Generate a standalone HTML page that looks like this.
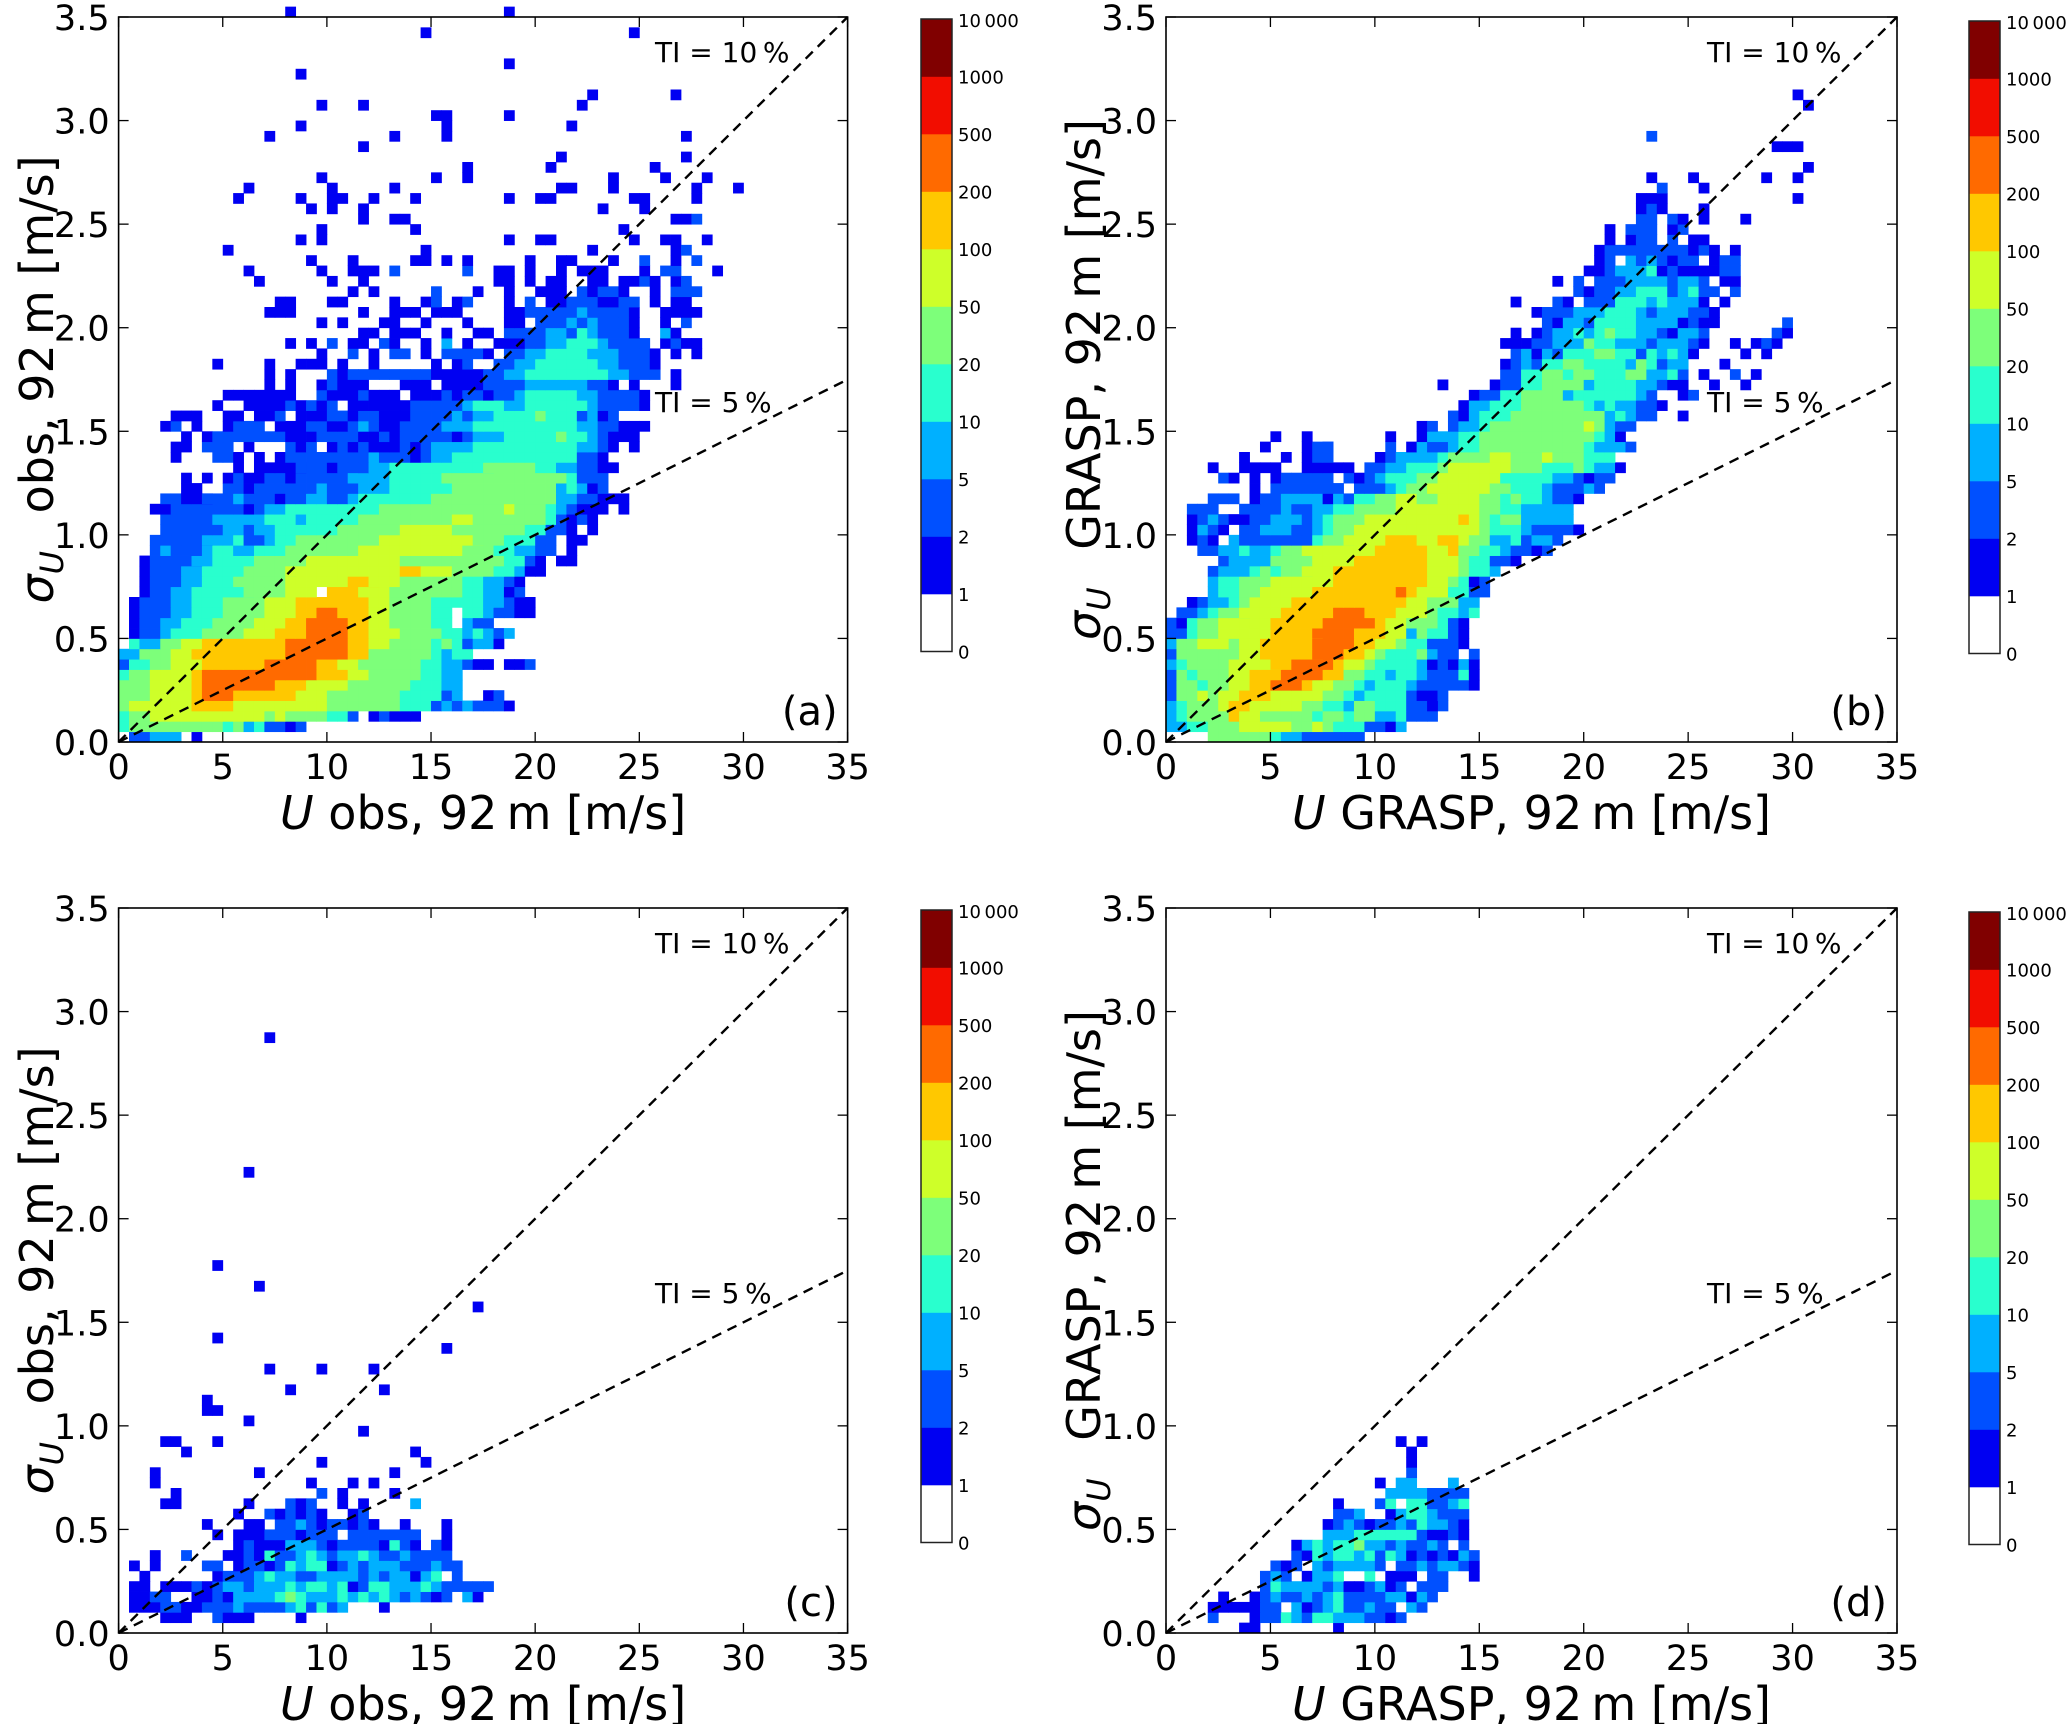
<!DOCTYPE html>
<html><head><meta charset="utf-8"><style>
html,body{margin:0;padding:0;background:#fff;}
svg{display:block;font-family:"DejaVu Sans","Liberation Sans",sans-serif;}
</style></head><body>
<svg id="fig" width="2067" height="1724" viewBox="0 0 2067 1724" xmlns="http://www.w3.org/2000/svg"></svg>
<script>
// ---- DATA: 2D histogram bins (x bin 0.5 m/s, y bin 0.05 m/s); each row = y bin index from bottom.
// segment "col:levels" ; level 0 empty, 1:1-2, 2:2-5, 3:5-10, 4:10-20, 5:20-50, 6:50-100, 7:100-200, 8:200-500
const panelARows = [
"1:22 3:333 7:1",
"0:4 1:555555555 10:4 11:5 12:3 13:4 14:221 17:2",
"0:4 1:55 3:66666666666 14:5 15:6 16:5555 20:44 22:2 24:1 25:2 26:111",
"0:5 1:666666 7:7 8:777 11:666666 17:666 20:5555555 27:444 30:2 31:3 32:2 33:3 34:222 37:1",
"0:5 1:55 3:6666 7:7 8:888 11:777777 17:666 20:5555555 27:4444 31:2 32:3 35:1 36:2",
"0:5 1:55 3:6666 7:7 8:8888888 15:777 18:6666 22:555555 28:444 31:3 32:3",
"0:4 1:55 3:6666 7:7 8:88888888888 19:777 22:66 24:55555 29:44 31:33",
"0:2 1:44 3:55 5:666 8:777777 14:88888 19:77 21:66 23:555555 29:44 31:33 33:2 34:11 37:11 39:2",
"0:33 2:555 5:66 7:777 10:777777 16:888888 22:77 24:555555 30:4 31:3 32:44",
"1:4 2:33 4:55 6:66 8:77777 13:777 16:888888 22:77 24:66 26:5555 30:4 31:5 32:4 33:2 34:33 36:1",
"1:1 2:22 4:3 5:444 8:5555 12:666 15:777 18:8888 22:77 24:666 27:5555 31:44 33:3 34:4 35:3 36:2 37:3",
"1:1 2:22 4:33 6:444 9:5555 13:666 16:77 18:8888 22:77 24:66 26:5555 30:44 33:3 34:22",
"1:1 2:222 5:33 7:444 10:5555 14:666 17:77 19:88 21:777 24:66 26:5555 30:44 33:444 35:3 36:22 38:11",
"1:1 2:222 5:33 7:444 10:5555 14:666 17:7777 21:777 24:66 26:5555 30:444 33:44 35:3 36:3 37:2 38:11",
"2:1 3:22 5:33 7:44 9:4444 12:5555 16:666 20:777 23:666 26:5555 30:555 33:44 35:33 37:1 38:2",
"2:1 3:2 4:22 6:33 8:444 11:55555 16:666 19:666 22:777 24:666 27:55555 32:5 33:44 35:33 37:2 38:1",
"2:1 3:2 4:22 6:33 8:44 10:44555 15:55 16:66666 21:6 22:66666 27:77 29:666 32:55 34:55 36:44 38:3 39:1 40:1",
"2:1 3:2 4:22 6:22 7:33 9:44 11:44 13:55555 18:666666 24:666 27:5 28:5555 32:55 34:555 37:44 39:2 40:1 42:11",
"3:2 4:3 5:2 6:22 8:3 9:44 11:33 13:444 16:5555 20:555 23:666666 29:66 31:666 33:555 36:444 38:33 40:22 43:1",
"3:2 4:2 5:2 6:222 8:33 10:3 11:4 12:222 14:3 15:44 17:5555 21:5555 25:6666 29:66 31:6666 34:555 37:444 40:22 43:1 44:1",
"4:2 5:222 8:2 9:2 10:3 11:3 12:2 13:33 15:4 16:444 19:44 21:555 24:555 27:666 30:66 32:555 35:5 36:555 39:44 41:22 43:1 45:1",
"4:2 5:2222 9:3 10:333 13:3 14:444 17:3 18:44 20:444 23:555 26:555555 32:66 34:555 37:5555 41:4 42:2 43:1 44:2 45:1",
"3:1 4:1 5:2222 9:2 10:22 12:1 13:2 14:3 15:3 16:44 18:4 19:444 22:444 25:55 27:5555 31:555555 37:6 38:555 41:4 42:3 43:2 44:11 46:1 48:1",
"4:2 5:2 6:111 8:2 9:22 11:3 12:2 13:22 15:1 16:22 18:3 19:3 20:22 22:3 23:44 25:4 26:4444 30:55555 35:55555 40:55 42:3 43:3 44:2 45:2 46:1 47:11",
"6:1 7:1 10:2 11:2 12:1 13:2 14:2 15:22 17:22 19:3 20:2 21:22 23:33 25:3 26:4444 30:44 32:5555 36:55555 41:5 42:3 43:4 44:3 45:1 46:2",
"6:1 8:1 10:1 11:2 12:11 14:22 16:1 17:2 18:22 20:22 22:3 23:33 25:3 26:444 29:44 31:55555 36:5555 40:5 41:55 43:4 44:22 46:2",
"11:1 13:1 14:1 15:111 17:2 18:22 20:1 21:222 23:2 24:33 26:4 27:44 29:4444 33:444 35:555 38:55 40:4 41:4 42:3 43:3 44:2 45:2 46:1 47:1",
"5:1 9:22 11:1 13:1 15:11 16:2 17:2 18:2 19:2 20:2222 24:3 25:2 26:2 27:2 28:1 29:2 30:3 31:3 32:44 34:44 36:44 38:4 39:4 40:4 41:44 43:4 44:2 45:2 46:1",
"5:1 6:1 8:22 10:2 12:1 16:2 17:1 18:2 20:1 21:2 22:1 23:2 24:1 25:1 26:1 27:2 28:1 29:2 30:3 31:33 33:3 34:4 35:44 37:4 38:4 39:44 41:4 42:4 43:4 44:3 45:3 46:2 47:1 49:1",
"6:1 8:1 9:22 11:2 12:22 14:22 16:1 17:1 18:1 19:2 20:2 21:2 22:2 23:11 25:2 26:1 27:2 28:2 29:2 30:22 32:1 33:2 34:3 35:33 37:44 39:4 40:44 42:5 43:4 44:4 45:3 46:2 47:1 48:11",
"4:1 5:2 7:1 10:1 11:2 12:2 13:2 15:1 16:1 17:1 18:2 19:2 20:1 21:1 22:2 23:3 24:2 25:1 26:1 27:2 28:22 30:2 31:3 32:3 33:3 34:4 35:4 36:44 38:44 40:44 42:4 43:4 44:3 45:3 46:2 47:2 48:11 50:1",
"5:11 7:1 10:1 11:1 13:1 14:1 15:2 17:1 18:1 19:1 20:2 21:2 22:1 23:2 24:2 25:1 26:1 27:1 28:2 29:2 30:2 31:2 32:3 33:2 34:3 35:3 36:4 37:4 38:4 39:4 40:5 41:4 42:4 43:4 44:2 45:3 46:1 47:2",
"9:1 12:11 14:1 15:1 16:2 17:1 18:2 19:1 20:2 22:1 23:1 24:1 25:1 26:1 27:1 28:2 29:2 30:2 31:2 32:2 33:3 34:4 35:4 36:4 37:3 38:3 39:4 40:4 41:4 42:4 43:4 44:4 45:3 46:2 47:2 48:2 49:2 50:1",
"10:11 12:1 13:1 14:1 15:1 16:1 19:2 20:1 21:1 22:1 23:2 24:1 25:1 26:1 28:1 29:1 30:1 31:2 32:1 33:2 34:2 35:1 36:2 37:2 38:3 39:4 40:4 41:4 42:4 43:4 44:3 45:3 46:2 47:2 48:2 49:2 50:1",
"14:1 16:1 19:1 20:2 21:1 22:1 23:1 27:1 28:1 29:1 31:1 32:1 33:1 34:1 35:2 36:2 37:2 38:2 39:3 40:3 41:3 42:3 43:3 44:3 45:2 46:2 47:1 49:1 53:1",
"14:1 16:1 20:212 23:2222222 30:11111 35:2 36:2334444444433 49:222 53:1",
"9:1 14:1 17:111 21:1 24:1 30:1 32:12 36:2233444444332221",
"19:1 22:2 24:1 26:22 29:1 31:2222 35:1 37:223344443332221 53:1 55:1",
"16:1 18:1 20:2 22:11 25:21 29:1 31:3 33:1 36:111 39:223344432222 52:1211",
"23:11 26:111 31:1 34:11 37:22 39:22332432221 52:3 53:1",
"19:1 21:1 25:11 29:1 33:1 37:11 40:2223232221 52:1 54:2",
"14:111 23:1 26:111 30:111 37:11 39:22 41:222322221 52:1111",
"15:11 20:11 26:1 29:12 32:12 37:1 39:2 41:112221122 51:1 53:11",
"22:1 24:1 30:2 34:1 37:1 40:111 44:21221 51:1 53:222",
"13:1 20:1 23:1 36:11 39:1 41:11 45:11 48:1121 53:12",
"12:1 19:1 22:111 26:2 33:2 36:11 39:1 42:1 44:111 50:1 52:22 57:1",
"18:1 22:1 28:11 31:1 33:1 39:1 42:11 47:1 50:2 53:1 55:2",
"10:1 29:1 45:1 53:12",
"17:1 19:1 37:1 40:11 49:1 52:11 56:1",
"19:1 28:1 48:1",
"23:1 26:11 53:112",
"18:1 20:1 23:1 46:1 50:1",
"11:1 17:1 20:1 21:1 24:1 28:1 37:1 40:11 49:11 55:1",
"12:1 20:1 26:1 42:11 47:1 55:1 59:1",
"19:1 30:1 33:1 47:1 52:1 56:1",
"33:1 41:1 51:1",
"42:1 54:1",
"23:1",
"14:1 26:1 31:1 54:1",
"17:1 31:1 43:1",
"30:11 37:1",
"19:1 23:1 44:1",
"45:1 53:1",
"",
"17:1",
"37:1",
"",
"",
"29:1 49:1",
"",
"16:1 37:1"
];
const panelBRows = [
"4:55 6:5555 10:4 11:33 13:222222",
"0:3 1:3 2:44 4:5555 7:66666 12:55 14:6 15:5 16:444 19:22 21:1 22:3",
"0:3 1:4 2:5 3:555 6:7 7:66 9:55555 14:4 15:5 16:5 17:4 18:5 19:5 20:33 22:4 23:22 25:2",
"0:3 1:4 2:5 3:55 5:6 6:77 8:66666 13:55 15:4 16:4 17:3 18:5 19:5 20:44 22:4 23:2222 25:1",
"0:2 1:5 2:55 3:6 4:5 5:66 7:7777 10:66 12:66 14:6 15:55 17:4 18:3 19:4 20:4 21:4 22:4 23:2 24:11 26:2",
"0:2 1:5 2:55 3:4 4:5 5:5 6:6 7:6 8:7 9:7 10:8 11:888 13:7 14:6 15:6 16:55 18:4 19:3 20:44 22:4 23:3 24:22 26:2 27:2 28:2 29:1",
"0:2 1:5 2:4 3:5 4:5 5:5 6:6 7:6 8:7 9:77 11:8888 15:7 16:77 17:55 19:44 21:3 22:4 23:4 24:3 25:2 26:22 28:4 29:1",
"0:3 1:4 2:55 4:55 6:66 8:666 10:77 12:8888 16:7 17:66 19:5 20:4 21:44 23:4 24:3 25:1 26:2 27:1 28:3 29:1",
"0:2 1:5 2:55 4:5 5:55 7:66 9:7 10:77 12:777 14:888 17:77 19:6 20:5 21:4 22:44 24:5 25:3 26:2 27:2 29:2",
"0:3 1:5 2:55 3:6 4:66 6:5 7:66 9:7 10:77 12:77 14:8888 18:77 20:66 22:5 23:44 25:2 26:2 27:2 28:1",
"0:2 1:2 2:4 3:5 4:5 5:6 6:66 8:66 10:77 12:777 14:8888 18:777 21:66 23:3 24:5 25:44 27:2 28:1",
"0:2 1:1 2:4 3:55 5:6 6:666 8:66 10:777 13:77 15:888 18:88 20:7 21:66 23:5 24:5 25:5 26:4 27:2 28:1",
"1:2 2:22 3:3 4:4 5:555 7:66 9:66 11:77777 16:888 19:7 20:77 22:66 24:6 25:5 26:44 28:3 29:4",
"2:1 3:2 4:3 5:3 6:4 7:5 8:66 10:66 12:77 14:77 16:77 18:77 20:7 21:77 23:66 25:5 26:55 28:3 29:3",
"4:3 5:4 6:4 7:55 9:66 11:6 12:66 14:77 16:77 18:77 20:77 22:8 23:7 24:666 27:44 29:2 30:2",
"4:3 5:4 6:4 7:5 8:55 10:66 12:66 14:66 16:77 18:77 20:77 22:77 24:7 25:66 27:55 28:4 29:1 30:2",
"4:2 5:3 6:33 8:4 9:5 10:4 11:555 13:66 15:6 16:77 18:77 20:77 22:777 25:66 27:6 28:5 29:4 30:4 31:3",
"5:2 6:3 7:3 8:333 10:55 12:55 14:666 17:6 18:7 19:7 20:77 22:777 25:66 27:6 28:5 29:4 30:4 31:2 32:2 33:1",
"3:22 5:3 6:3 7:4 8:33 10:44 11:55 13:666 16:66 18:66 20:777 22:77 24:7 25:66 27:77 28:5 29:5 30:44 32:3 33:2 34:2 35:1 36:2",
"2:1 3:2 4:1 6:3 7:2 8:2 9:2 10:2222 14:4 15:555 17:6 18:6 19:6 20:6 21:77 23:7 24:66 26:77 28:6 29:5 30:5 31:33 33:4 34:2 35:33 37:2",
"2:1 3:3 4:2 5:1 7:2 8:2 9:3 10:3 11:3 12:22 14:3 15:4 16:55 18:6 19:66 21:66 23:66 25:66 27:6 28:66 30:5 31:44 33:4 34:3 35:2 36:2 37:22 39:1",
"2:1 3:2 4:3 5:2 6:1 7:1 8:2 9:2 10:33 12:3 13:2 14:3 15:4 16:55 18:5 19:6 20:66 22:66 24:66 26:66 28:7 29:6 30:5 31:4 32:55 34:3 35:33 37:33",
"2:2 3:2 4:2 7:2 8:2 9:2 10:2 11:3 12:22 14:33 16:44 18:55 20:555 22:66 24:66 26:66 28:66 30:55 32:44 34:3 35:3 36:3 37:33",
"4:2 5:22 8:1 9:2 10:2 11:3 12:33 14:3 15:1 16:3 17:2 18:4 19:4 20:55 22:66 24:55 26:66 28:6 29:6 30:5 31:5 32:4 33:5 34:44 36:3 37:2 38:2 39:1",
"8:1 10:2 11:2 12:22 14:2 15:2 16:2 18:2222 21:3 22:4 23:55 25:6 26:666 29:66 31:5 32:5 33:4 34:44 36:3 37:2 38:2 39:2 40:3 41:2",
"5:2 6:1 8:1 10:1 11:222 14:2 15:2 17:2 18:1 19:2 20:3 21:4 22:44 24:55 26:66 28:66 30:66 32:4 33:44 35:44 37:3 38:3 39:2 40:1 41:2 42:2",
"4:1 7:11 9:11 13:11 15:111 19:2 20:2 21:33 23:4 24:44 26:5 27:66 29:66 31:66 33:5 34:55 36:4 37:44 39:5 40:4 41:33 43:1",
"7:1 11:1 13:1 14:2 15:2 20:1 21:2 22:33 24:33 26:4 27:55 29:55 31:6 32:6 33:5 34:55 36:6 37:5 38:55 40:4 41:44",
"9:1 13:1 14:22 15:2 21:2 23:1 24:3 25:2 26:2 27:3 28:44 30:55 32:55 34:55 36:5 37:5 38:55 40:4 41:3 42:3 43:3 44:2",
"10:1 13:1 21:1 24:1 25:3 26:3 27:3 28:4 29:4 30:5 31:555 34:5 35:5 36:5 37:55 39:5 40:5 41:4 42:3 43:1",
"24:1 25:2 27:22 28:3 29:3 30:4 31:555 34:5 35:5 36:55 38:55 40:6 41:5 42:3 43:2 44:2",
"27:2 28:1 29:3 30:4 31:44 33:5 34:55 36:5 37:5 38:55 40:5 41:5 42:3 43:4 44:3 45:2 46:2 49:1",
"28:1 29:3 30:3 31:4 32:44 34:5 35:5 36:5 37:5 38:5 39:5 40:4 41:3 42:4 43:3 44:3 45:2 46:2 47:1",
"29:1 30:2 31:2 32:4 33:4 34:5 35:55 37:5 38:3 39:4 40:44 42:4 43:44 45:3 46:2 49:1 50:2",
"26:1 31:1 32:2 33:2 34:4 35:4 36:5 37:55 39:5 40:3 41:4 42:4 43:4 44:4 45:3 46:3 47:2 48:1 49:1 52:1 55:1",
"32:224455455444553342 51:1 54:2 56:1",
"32:123244554444354233 53:1",
"33:231324445544243431 55:1 57:1",
"32:11122333544333233321 54:1 56:121",
"33:1 35:12334345443321332 58:21",
"36:21332444433331211 59:2",
"35:122233344432333221",
"37:21.222444343331.1 33:1",
"39:21223344423422.2",
"37:1 39:2.22233332332.11",
"40:112333412111122",
"41:12.3232122.122",
"41:1222222221 51:21 54:1",
"42:1 44:122 48:2 50:11",
"42:1 44:222 48:12",
"45:22 48:21 51:1 55:1",
"45:121 51:1",
"45:111 60:1",
"47:2 51:1",
"46:1 50:1 57:1 60:1",
"61:1",
"",
"58:111",
"46:2",
"",
"",
"61:1",
"60:1"
];
const panelCRows = [
"",
"4:111 9:2 10:111 17:1",
"1:111 4:22 6:11 8:222 11:3 12:2222 16:3 17:4 18:2 19:4 20:2 21:3 25:1",
"1:11 3:22 7:11 9:2 10:1 11:3333 15:4 16:5 17:4 18:333 21:4 22:3 23:4 24:3 25:4 26:3 27:2 28:3 29:2 30:1 31:2 33:3 34:1",
"1:11 4:111 7:2 8:1 9:2 10:33 12:2 13:333 16:4 17:3 18:44 20:3 21:4 22:1 23:2 24:44 26:333 29:4 30:3 31:22222",
"2:1 9:1 10:22 12:2 13:3 14:4 15:33 17:22 19:3333 23:2 24:3 25:2 26:33 28:1 29:3 30:4 32:2",
"1:1 3:1 8:22 11:1 12:2 13:2 14:1 15:2 16:4 17:3 18:44 20:1 21:2 22:3 23:2 24:333 27:222 30:3 31:22",
"3:1 6:2 10:11 12:2 13:1 14:4 15:2 16:2 17:3 18:4 19:3 20:2 21:33 23:4 24:3 25:22 27:3 28:2222",
"11:1 12:2 13:111 16:3 17:33 19:2 20:1 21:2222 25:1 26:4 27:2 28:1 30:2 31:1",
"9:1 11:111 14:222 17:1 18:222 22:2222222 31:1",
"8:1 12:11 15:22 17:3 18:2 19:1 20:22 22:1 23:2 24:1 27:1 31:1",
"11:1 14:21 16:2 17:1 18:2 19:1 22:1 23:2",
"4:11 12:1 16:2 17:1 18:2 21:1 23:1 28:3",
"5:1 19:2 21:1 26:1",
"3:1 18:1 22:1 24:1",
"3:1 13:1 26:1",
"19:1 29:1",
"6:1 28:1",
"4:11 9:1",
"23:1",
"12:1",
"8:11",
"8:1",
"16:1 25:1",
"",
"14:1 19:1 24:1",
"",
"31:1",
"9:1",
"", "",
"34:1",
"",
"13:1",
"",
"9:1",
"", "", "", "", "", "", "", "",
"12:1",
"", "", "", "", "", "", "", "", "", "", "", "",
"14:1"
];
const panelDRows = [
"7:11 16:1",
"4:2 8:1 9:22 11:4 12:3 13:2 14:44 16:333 19:22 21:1 22:2",
"4:11111 9:22 12:3 13:1 14:2 15:3 16:4 17:22 19:3 20:22 23:3 24:2",
"5:1 8:1 9:2 10:3 11:22 13:3 14:2 15:3 16:4 17:2222 21:33 23:1 24:3 25:2",
"9:2 10:4 11:3333 15:2 16:3 17:11 19:2 20:3 21:1 22:2 24:222",
"9:2 10:3 11:2 13:1 14:33 16:4 19:4 21:111 25:22 29:1",
"10:2 11:1 12:2 14:3 15:2 16:3333 20:2 22:22 24:3 25:2 26:33 28:2 29:1",
"12:2 13:1 14:4 15:3 16:44 18:3 19:4 20:2 21:4 22:3 23:1 24:2 25:1 26:2 27:1 28:3 29:2",
"12:1 13:3 14:4 15:3 16:44 18:5 19:33 21:2 22:3 23:22 25:3 26:2 28:2",
"15:333 18:444444 24:2 25:11 27:2 28:1",
"15:1 16:2 17:3 18:2 19:1 20:22 22:3 23:2 24:4 25:33 27:2 28:1",
"16:22 18:3 21:1 22:3 23:4 24:4 25:3 26:222",
"16:1 20:2 21:4 23:44 25:2 26:2 27:3 28:4",
"21:3333 25:2222",
"20:1 22:33 27:3",
"23:2",
"23:1",
"23:1",
"22:1 24:1"
];
const xTicks = [0, 5, 10, 15, 20, 25, 30, 35];
const yTicks = [0, 0.5, 1.0, 1.5, 2.0, 2.5, 3.0, 3.5];
const xTickLabels = ["0","5","10","15","20","25","30","35"];
const yTickLabels = ["0.0","0.5","1.0","1.5","2.0","2.5","3.0","3.5"];
const cbarLabels = ["0","1","2","5","10","20","50","100","200","500","1000","10\u2009000"];
const tiRatios = [0.10, 0.05];
const tiLabels = ["TI = 10\u2009%", "TI = 5\u2009%"];
const binW = 0.5, binH = 0.05, xMax = 35, yMax = 3.5;

// ---- styles
const levelColors = ['#ffffff','#0000f2','#0050ff','#00b0ff','#29ffce','#7dff7a','#ceff29','#ffc800','#ff6a00','#f20d00','#800000'];
const NS = 'http://www.w3.org/2000/svg';
const svg = document.getElementById('fig');
function el(tag, parent){ const e = document.createElementNS(NS, tag); parent.appendChild(e); return e; }

const panels = [
  {id:'a', rows:panelARows, L:118.6, R:847.6, T:17, B:742, cbX:921, cbT:19, xl:'obs', yl:'obs', yLabX:53, tiX:655},
  {id:'b', rows:panelBRows, L:1166, R:1897, T:17, B:742, cbX:1969, cbT:21, xl:'GRASP', yl:'GRASP', yLabX:1100, tiX:1707},
  {id:'c', rows:panelCRows, L:118.6, R:847.6, T:908, B:1633, cbX:921, cbT:910, xl:'obs', yl:'obs', yLabX:53, tiX:655},
  {id:'d', rows:panelDRows, L:1166, R:1897, T:908, B:1633, cbX:1969, cbT:912, xl:'GRASP', yl:'GRASP', yLabX:1100, tiX:1707}
];

panels.forEach(p => {
  const g = el('g', svg);
  
  
  const W = p.R - p.L, H = p.B - p.T;
  const xs = v => p.L + v / xMax * W;
  const ys = v => p.B - v / yMax * H;

  // heatmap
  const hm = el('g', g);
  
  
  p.rows.forEach((row, b) => {
    if (!row) return;
    row.trim().split(/\s+/).forEach(seg => {
      const parts = seg.split(':');
      const c0 = +parts[0];
      const lv = parts[1];
      for (let k = 0; k < lv.length; k++) {
        const ch = lv[k];
        if (ch === '.') continue;
        const d = +ch;
        if (!d) continue;
        const col = c0 + k;
        const x0 = xs(col * binW), x1 = xs((col + 1) * binW);
        const y1 = ys(b * binH), y0 = ys((b + 1) * binH);
        const r = el('rect', hm);
        
        
        r.setAttribute('x', x0.toFixed(2));
        r.setAttribute('y', y0.toFixed(2));
        r.setAttribute('width', (x1 - x0 + 0.4).toFixed(2));
        r.setAttribute('height', (y1 - y0 + 0.4).toFixed(2));
        r.setAttribute('fill', levelColors[d]);
      }
    });
  });

  // TI lines
  tiRatios.forEach((ratio, i) => {
    const ln = el('line', g);
    
    
    ln.setAttribute('x1', xs(0)); ln.setAttribute('y1', ys(0));
    ln.setAttribute('x2', xs(xMax)); ln.setAttribute('y2', ys(ratio * xMax));
    ln.setAttribute('stroke', '#000'); ln.setAttribute('stroke-width', '2.4');
    ln.setAttribute('stroke-dasharray', '10 7');
  });
  const ti1 = el('text', g);
  
  
  ti1.setAttribute('x', p.tiX); ti1.setAttribute('y', p.T + 45);
  ti1.setAttribute('font-size', '28'); ti1.textContent = tiLabels[0];
  const ti2 = el('text', g);
  
  
  ti2.setAttribute('x', p.tiX); ti2.setAttribute('y', p.T + 395);
  ti2.setAttribute('font-size', '28'); ti2.textContent = tiLabels[1];

  // frame
  const fr = el('rect', g);
  
  
  fr.setAttribute('x', p.L); fr.setAttribute('y', p.T);
  fr.setAttribute('width', W); fr.setAttribute('height', H);
  fr.setAttribute('fill', 'none'); fr.setAttribute('stroke', '#000'); fr.setAttribute('stroke-width', '1.6');

  // ticks + labels
  xTicks.forEach((v, i) => {
    const x = xs(v);
    [[p.B, p.B - 10], [p.T, p.T + 10]].forEach(yy => {
      const t = el('line', g);
      
      
      t.setAttribute('x1', x); t.setAttribute('x2', x);
      t.setAttribute('y1', yy[0]); t.setAttribute('y2', yy[1]);
      t.setAttribute('stroke', '#000'); t.setAttribute('stroke-width', '1.3');
    });
    const tl = el('text', g);
    
    
    tl.setAttribute('x', x); tl.setAttribute('y', p.B + 37);
    tl.setAttribute('font-size', '35'); tl.setAttribute('text-anchor', 'middle');
    tl.textContent = xTickLabels[i];
  });
  yTicks.forEach((v, i) => {
    const y = ys(v);
    [[p.L, p.L + 10], [p.R, p.R - 10]].forEach(xx => {
      const t = el('line', g);
      
      
      t.setAttribute('y1', y); t.setAttribute('y2', y);
      t.setAttribute('x1', xx[0]); t.setAttribute('x2', xx[1]);
      t.setAttribute('stroke', '#000'); t.setAttribute('stroke-width', '1.3');
    });
    const tl = el('text', g);
    
    
    tl.setAttribute('x', p.L - 9); tl.setAttribute('y', y + 13);
    tl.setAttribute('font-size', '35'); tl.setAttribute('text-anchor', 'end');
    tl.textContent = yTickLabels[i];
  });

  // panel letter
  const pl = el('text', g);
  
  
  pl.setAttribute('x', p.R - 10); pl.setAttribute('y', p.B - 17);
  pl.setAttribute('font-size', '40'); pl.setAttribute('text-anchor', 'end');
  pl.textContent = '(' + p.id + ')';

  // x-axis title
  const xt = el('text', g);
  
  
  xt.setAttribute('x', xs(xMax / 2)); xt.setAttribute('y', p.B + 87);
  xt.setAttribute('font-size', '46'); xt.setAttribute('text-anchor', 'middle');
  xt.innerHTML = '<tspan font-style="italic">U</tspan> ' + p.xl + ', 92\u2009m [m/s]';

  // y-axis title
  const yt = el('text', g);
  
  
  yt.setAttribute('transform', 'translate(' + p.yLabX + ',' + ((p.T + p.B) / 2) + ') rotate(-90)');
  yt.setAttribute('font-size', '46'); yt.setAttribute('text-anchor', 'middle');
  yt.innerHTML = '<tspan font-style="italic">σ</tspan><tspan font-style="italic" font-size="32" dy="10">U</tspan><tspan dy="-10">\u2002 ' + p.yl + ', 92\u2009m [m/s]</tspan>';

  // colorbar
  const cb = el('g', g);
  
  
  const segH = 57.5, cbW = 31, nSeg = cbarLabels.length - 1;
  const cbB = p.cbT + segH * nSeg;
  for (let i = 0; i < nSeg; i++) {
    const r = el('rect', cb);
    
    
    r.setAttribute('x', p.cbX); r.setAttribute('y', cbB - segH * (i + 1));
    r.setAttribute('width', cbW); r.setAttribute('height', segH + 0.3);
    r.setAttribute('fill', levelColors[i]);
  }
  const cbf = el('rect', cb);
  
  
  cbf.setAttribute('x', p.cbX); cbf.setAttribute('y', p.cbT);
  cbf.setAttribute('width', cbW); cbf.setAttribute('height', segH * nSeg);
  cbf.setAttribute('fill', 'none'); cbf.setAttribute('stroke', '#222'); cbf.setAttribute('stroke-width', '1.5');
  cbarLabels.forEach((lab, i) => {
    const t = el('text', cb);
    
    
    t.setAttribute('x', p.cbX + cbW + 6);
    t.setAttribute('y', cbB - segH * i + (i === nSeg ? 8 : 7));
    t.setAttribute('font-size', '18');
    t.textContent = lab;
  });
});
</script>
</body></html>
